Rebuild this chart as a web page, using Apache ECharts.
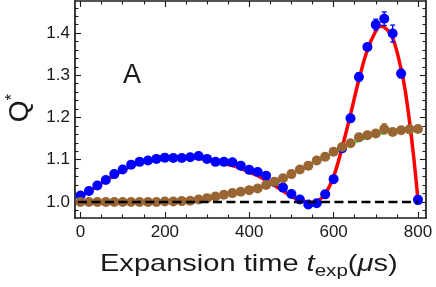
<!DOCTYPE html>
<html>
<head>
<meta charset="utf-8">
<script src="https://cdn.jsdelivr.net/npm/echarts@6/dist/echarts.min.js"></script>
<style>
html,body{margin:0;padding:0;background:#fff;}
#c{width:436px;height:287px;}
</style>
</head>
<body>
<div id="c"></div>
<script>
// ---- data ----
const X_TICKS = [0, 200, 400, 600, 800];
const X_MINOR = [50, 100, 150, 250, 300, 350, 450, 500, 550, 650, 700, 750];
const Y_TICKS = [1.0, 1.1, 1.2, 1.3, 1.4];
const Y_MINOR = [0.98, 1.02, 1.04, 1.06, 1.08, 1.12, 1.14, 1.16, 1.18, 1.22, 1.24, 1.26, 1.28, 1.32, 1.34, 1.36, 1.38, 1.42, 1.44, 1.46];

const BLUE_X = [0,20,40,60,80,100,120,140,160,180,200,220,240,260,280,300,320,340,360,380,400,420,440,460,480,500,520,540,560,580,600,620,640,660,680,700,720,740,760,800];
const BLUE_Y = [1.015,1.026,1.039,1.052,1.066,1.077,1.088,1.095,1.098,1.102,1.105,1.104,1.104,1.106,1.109,1.102,1.095,1.095,1.094,1.086,1.076,1.071,1.062,1.047,1.034,1.019,1.006,0.994,0.997,1.018,1.054,1.127,1.198,1.296,1.367,1.420,1.434,1.399,1.304,1.005];
const BLUE_E = [0.005,0.004,0.005,0.006,0.005,0.005,0.008,0.006,0.005,0.005,0.005,0.005,0.005,0.005,0.006,0.006,0.005,0.005,0.005,0.005,0.008,0.008,0.005,0.005,0.005,0.005,0.005,0.005,0.005,0.005,0.006,0.006,0.006,0.010,0.008,0.013,0.016,0.020,0.010,0.010];

const BROWN_X = [0,20,40,60,80,100,120,140,160,180,200,220,240,260,280,300,320,340,360,380,400,420,440,460,480,500,520,540,560,580,600,620,640,660,680,700,720,740,760,780,800];
const BROWN_Y = [1.000,1.000,1.000,1.000,1.000,1.000,1.000,1.000,1.000,1.000,1.001,1.001,1.002,1.003,1.006,1.009,1.013,1.017,1.021,1.024,1.028,1.032,1.040,1.048,1.056,1.066,1.077,1.086,1.098,1.107,1.119,1.130,1.139,1.153,1.158,1.162,1.173,1.166,1.170,1.172,1.173];
const BROWN_E = [0.003,0.003,0.003,0.003,0.003,0.003,0.003,0.003,0.003,0.003,0.003,0.003,0.003,0.003,0.003,0.003,0.003,0.003,0.003,0.003,0.003,0.003,0.003,0.003,0.003,0.003,0.003,0.003,0.003,0.003,0.003,0.003,0.003,0.004,0.004,0.004,0.012,0.008,0.005,0.004,0.004];

const RED_X = [0,20,40,60,80,100,120,140,160,180,200,220,240,260,280,300,320,340,360,380,400,420,440,460,480,500,520,540,550,560,580,600,620,640,660,680,700,710,720,740,760,770,780,790,800];
const RED_Y = [1.012,1.025,1.038,1.051,1.063,1.074,1.084,1.092,1.098,1.102,1.105,1.106,1.106,1.105,1.103,1.100,1.096,1.091,1.086,1.079,1.071,1.062,1.051,1.039,1.026,1.013,1.004,0.999,0.998,1.000,1.019,1.060,1.128,1.207,1.290,1.360,1.405,1.416,1.414,1.388,1.315,1.262,1.190,1.105,1.005];

const GREEN_X = [0,100,200,250,300,350,400,450,500,550,600,650,700,750,800];
const GREEN_Y = [1.000,1.000,1.001,1.003,1.008,1.017,1.028,1.044,1.065,1.090,1.116,1.140,1.158,1.169,1.174];

const REF_X = [-6, 800];
const REF_Y = 1.0;

const X_RANGE = [-13, 819];
const Y_RANGE = [0.962, 1.476];

const PANEL_LABEL = 'A';

// ---- build ----
const zip = (xs, ys) => xs.map((x, i) => [x, ys[i]]);
const errData = (xs, ys, es) => xs.map((x, i) => [x, ys[i] - es[i], ys[i] + es[i]]);
const FONT = '"Liberation Sans", Arial, sans-serif';
const INK = '#1a1a1a';

function errRender(color) {
  return function (params, api) {
    const x = api.value(0), lo = api.value(1), hi = api.value(2);
    const a = api.coord([x, hi]), b = api.coord([x, lo]);
    const w = 2.5;
    const st = { stroke: color, lineWidth: 1.3 };
    return {
      type: 'group',
      children: [
        { type: 'line', shape: { x1: a[0], y1: a[1], x2: b[0], y2: b[1] }, style: st },
        { type: 'line', shape: { x1: a[0] - w, y1: a[1], x2: a[0] + w, y2: a[1] }, style: st },
        { type: 'line', shape: { x1: b[0] - w, y1: b[1], x2: b[0] + w, y2: b[1] }, style: st }
      ]
    };
  };
}

const lineStyleAxis = { color: INK, width: 1.7 };
function xAx(pos, vals, len, showLine, showLabel) {
  return {
    type: 'value', position: pos, min: X_RANGE[0], max: X_RANGE[1],
    splitLine: { show: false },
    axisLine: { show: showLine, onZero: false, lineStyle: lineStyleAxis },
    axisTick: { show: true, inside: true, length: len, customValues: vals, lineStyle: { color: INK, width: 1.1 } },
    axisLabel: showLabel ? { show: true, customValues: vals, margin: 6, color: INK, fontSize: 17, fontFamily: FONT } : { show: false }
  };
}
function yAx(pos, vals, len, showLine, showLabel) {
  return {
    type: 'value', position: pos, min: Y_RANGE[0], max: Y_RANGE[1],
    splitLine: { show: false },
    axisLine: { show: showLine, onZero: false, lineStyle: lineStyleAxis },
    axisTick: { show: true, inside: true, length: len, customValues: vals, lineStyle: { color: INK, width: 1.1 } },
    axisLabel: showLabel ? { show: true, customValues: vals, margin: 5, color: INK, fontSize: 17, fontFamily: FONT, formatter: v => v.toFixed(1) } : { show: false }
  };
}

const chart = echarts.init(document.getElementById('c'), null, { renderer: 'canvas' });
chart.setOption({
  animation: false,
  backgroundColor: '#ffffff',
  grid: { left: 75, right: 10, top: 1, bottom: 69 },
  xAxis: [
    xAx('bottom', X_TICKS, 6, true, true),
    xAx('bottom', X_MINOR, 3.5, false, false),
    xAx('top', X_TICKS, 6, true, false),
    xAx('top', X_MINOR, 3.5, false, false)
  ],
  yAxis: [
    yAx('left', Y_TICKS, 6, true, true),
    yAx('left', Y_MINOR, 3.5, false, false),
    yAx('right', Y_TICKS, 6, true, false),
    yAx('right', Y_MINOR, 3.5, false, false)
  ],
  series: [
    { type: 'line', data: zip(RED_X, RED_Y), smooth: 0.35, showSymbol: false, lineStyle: { color: '#ff0000', width: 3.5 }, z: 2 },
    { type: 'custom', data: errData(BLUE_X, BLUE_Y, BLUE_E), renderItem: errRender('#0000ff'), z: 3 },
    { type: 'scatter', data: zip(BLUE_X, BLUE_Y), symbolSize: 10, itemStyle: { color: '#0000ff', opacity: 1 }, z: 3 },
    { type: 'line', data: zip(GREEN_X, GREEN_Y), smooth: 0.35, showSymbol: false, lineStyle: { color: '#00ff00', width: 1.6 }, z: 4 },
    { type: 'custom', data: errData(BROWN_X, BROWN_Y, BROWN_E), renderItem: errRender('#996633'), z: 5 },
    { type: 'scatter', data: zip(BROWN_X, BROWN_Y), symbolSize: 10, itemStyle: { color: '#996633', opacity: 1 }, z: 5 },
    { type: 'line', data: REF_X.map(x => [x, REF_Y]), showSymbol: false, lineStyle: { color: '#000000', width: 2.6, type: [9, 4.5] }, z: 6 }
  ],
  graphic: [
    { type: 'text', x: 132, y: 76, style: { text: PANEL_LABEL, font: '27px ' + FONT, fill: INK, textAlign: 'center', textVerticalAlign: 'middle' } },
    {
      type: 'text', x: 20, y: 108, rotation: Math.PI / 2,
      style: {
        text: '{q|Q}{s|*}', textAlign: 'center', textVerticalAlign: 'middle', fill: INK,
        rich: {
          q: { fontSize: 28, fontFamily: FONT, lineHeight: 32, fill: INK },
          s: { fontSize: 17, fontFamily: FONT, lineHeight: 17, verticalAlign: 'top', fill: INK }
        }
      }
    },
    {
      type: 'text', x: 100, y: 264, scaleX: 1.21,
      style: {
        text: '{n|Expansion time }{i|t}{sub|exp}{n|(}{i|\u03bc}{n|s)}', textAlign: 'left', textVerticalAlign: 'middle', fill: INK,
        rich: {
          n: { fontSize: 24, fontFamily: FONT, lineHeight: 32, fill: INK },
          i: { fontSize: 24, fontFamily: FONT, fontStyle: 'italic', lineHeight: 32, fill: INK },
          sub: { fontSize: 17, fontFamily: FONT, lineHeight: 17, verticalAlign: 'bottom', fill: INK }
        }
      }
    }
  ]
});
</script>
</body>
</html>
